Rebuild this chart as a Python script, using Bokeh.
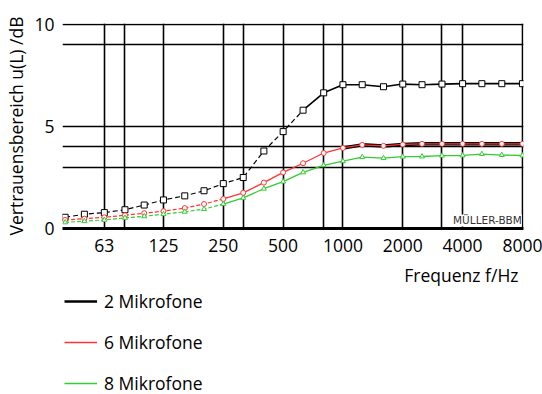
from bokeh.plotting import figure
from bokeh.layouts import column
from bokeh.models import (ColumnDataSource, FixedTicker, Legend, LegendItem, Label,
                          Range1d, NumeralTickFormatter)
from bokeh.embed import file_html
from bokeh.resources import INLINE

# ---- data -------------------------------------------------------------
freqs = [40, 50, 63, 80, 100, 125, 160, 200, 250, 315, 400, 500, 630, 800,
         1000, 1250, 1600, 2000, 2500, 3150, 4000, 5000, 6300, 8000]
mic2 = [0.55, 0.70, 0.78, 0.92, 1.15, 1.40, 1.60, 1.85, 2.20, 2.50, 3.80, 4.75,
        5.80, 6.65, 7.05, 7.05, 6.95, 7.08, 7.05, 7.08, 7.10, 7.10, 7.10, 7.10]
mic6 = [0.42, 0.48, 0.55, 0.65, 0.75, 0.85, 1.00, 1.20, 1.45, 1.75, 2.25, 2.75,
        3.20, 3.70, 3.95, 4.10, 4.05, 4.12, 4.15, 4.15, 4.15, 4.15, 4.15, 4.15]
mic8 = [0.30, 0.36, 0.42, 0.52, 0.60, 0.70, 0.82, 0.95, 1.20, 1.50, 1.95, 2.30,
        2.75, 3.10, 3.30, 3.50, 3.45, 3.52, 3.53, 3.57, 3.58, 3.65, 3.60, 3.58]
series_names = ["2 Mikrofone", "6 Mikrofone", "8 Mikrofone"]

x_tick_values = [63, 125, 250, 500, 1000, 2000, 4000, 8000]
x_tick_labels = ["63", "125", "250", "500", "1000", "2000", "4000", "8000"]
x_grid_values = [63, 80, 125, 250, 315, 500, 800, 1000, 2000, 3150, 4000, 8000]
y_tick_values = [0, 5, 10]
y_grid_values = [3, 4, 5, 9, 10]
x_title = "Frequenz f/Hz"
y_title = "Vertrauensbereich u(L) /dB"

FONT = "Open Sans"
FS = "17.5px"
BLACK, RED, GREEN = "black", "#ff3333", "#33cc33"

# ---- main chart -------------------------------------------------------
p = figure(width=542, height=262, x_axis_type="log",
           x_range=Range1d(38.8, 8100), y_range=Range1d(0, 10.05),
           output_backend="svg", toolbar_location=None,
           min_border_left=62, min_border_right=19,
           min_border_top=23, min_border_bottom=34)
p.outline_line_color = None
p.background_fill_color = "white"
p.border_fill_color = "white"

p.xgrid.ticker = FixedTicker(ticks=x_grid_values, minor_ticks=[])
p.ygrid.ticker = FixedTicker(ticks=y_grid_values, minor_ticks=[])
for g in (p.xgrid, p.ygrid):
    g.grid_line_color = "black"
    g.grid_line_width = 1.6
    g.grid_line_alpha = 1.0

p.xaxis.ticker = FixedTicker(ticks=x_tick_values, minor_ticks=[])
p.xaxis.formatter = NumeralTickFormatter(format="0")
p.xaxis.major_label_overrides = {v: l for v, l in zip(x_tick_values, x_tick_labels)}
p.yaxis.ticker = FixedTicker(ticks=y_tick_values, minor_ticks=[])
for ax in (p.xaxis, p.yaxis):
    ax.major_tick_line_color = None
    ax.minor_tick_line_color = None
    ax.major_tick_in = 0
    ax.major_tick_out = 0
    ax.minor_tick_in = 0
    ax.minor_tick_out = 0
    ax.major_label_text_font = FONT
    ax.major_label_text_font_size = FS
    ax.major_label_text_color = "black"
    ax.axis_label_text_font = FONT
    ax.axis_label_text_font_size = FS
    ax.axis_label_text_font_style = "normal"
    ax.axis_label_text_color = "black"
p.xaxis.axis_line_width = 3
p.xaxis.axis_line_color = "black"
p.yaxis.axis_line_color = None
p.xaxis.major_label_standoff = 10
p.yaxis.major_label_standoff = 8
p.yaxis.axis_label = y_title
p.yaxis.axis_label_standoff = 3

src = ColumnDataSource(dict(f=freqs, m2=mic2, m6=mic6, m8=mic8))

def part(lo, hi):
    return ColumnDataSource(dict(f=freqs[lo:hi], m2=mic2[lo:hi], m6=mic6[lo:hi], m8=mic8[lo:hi]))

# 2 microphones
p.line("f", "m2", source=part(0, 13), color=BLACK, line_width=1.2, line_dash="5 3")
p.line("f", "m2", source=part(12, None), color=BLACK, line_width=1.6)
p.scatter("f", "m2", source=src, marker="square", size=6, line_color=BLACK,
          fill_color="white", line_width=1)

# 6 microphones (dark shadow under the flat part)
p.line("f", "m6", source=part(14, None), color=BLACK, line_width=3.5)
p.line("f", "m6", source=part(0, 9), color=RED, line_width=1.2, line_dash="4 2")
p.line("f", "m6", source=part(8, None), color=RED, line_width=1.3)
p.scatter("f", "m6", source=src, marker="circle", size=5, line_color=RED,
          fill_color="white", line_width=1)

# 8 microphones
p.line("f", "m8", source=part(0, 9), color=GREEN, line_width=1.2, line_dash="4 2")
p.line("f", "m8", source=part(8, None), color=GREEN, line_width=1.3)
p.scatter("f", "m8", source=src, marker="triangle", size=5, line_color=GREEN,
          fill_color="white", line_width=1)

wm = Label(x=7950, y=0.1, text="MÜLLER-BBM", text_align="right", text_baseline="bottom",
           text_font="DejaVu Sans", text_font_size="10.5px", text_color="#333333",
           background_fill_color="white", background_fill_alpha=1.0)
p.add_layout(wm)

# ---- lower strip: x title and legend ---------------------------------
q = figure(width=542, height=132, x_range=Range1d(0, 1), y_range=Range1d(0, 1),
           x_axis_location=None, y_axis_location=None,
           output_backend="svg", toolbar_location=None,
           min_border_left=62, min_border_right=19,
           min_border_top=0, min_border_bottom=0)
q.outline_line_color = None
q.grid.visible = False
q.background_fill_color = "white"
q.border_fill_color = "white"

xt = Label(x=456, y=120, x_units="screen", y_units="screen", text=x_title,
           text_align="right", text_baseline="alphabetic",
           text_font=FONT, text_font_size=FS, text_color="black")
q.add_layout(xt)

# legend-only renderers (nothing visible on the canvas)
nan_src = ColumnDataSource(dict(x=[float("nan")], y=[float("nan")]))
l2 = q.line("x", "y", source=nan_src, color=BLACK, line_width=2.5)
l6 = q.line("x", "y", source=nan_src, color=RED, line_width=1.3)
l8 = q.line("x", "y", source=nan_src, color=GREEN, line_width=1.5)

legend = Legend(items=[LegendItem(label=series_names[0], renderers=[l2]),
                       LegendItem(label=series_names[1], renderers=[l6]),
                       LegendItem(label=series_names[2], renderers=[l8])],
                location=(2, -1), orientation="vertical",
                label_text_font=FONT, label_text_font_size="17.5px",
                label_text_color="black",
                label_height=24, glyph_height=24, glyph_width=33, spacing=17,
                label_standoff=7, padding=0, margin=0,
                border_line_color=None, background_fill_alpha=0)
q.add_layout(legend, "center")

layout = column(p, q, spacing=0)
open("out.html", "w").write(file_html(layout, INLINE))
